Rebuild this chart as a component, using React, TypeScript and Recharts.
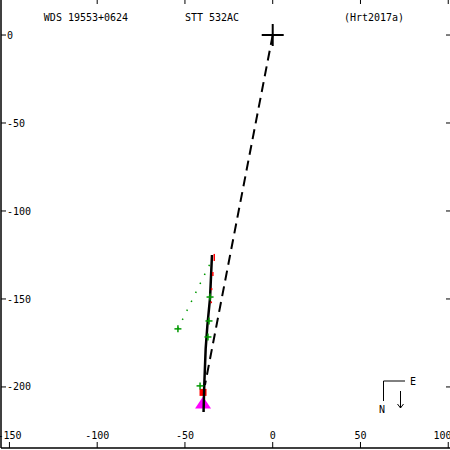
import {Scatter, ScatterChart, XAxis, YAxis} from 'recharts';

const xTicks = [-150, -100, -50, 0, 50, 100];
const yTicks = [-200, -150, -100, -50, 0];

const primary = [{x: 0, y: 0}];
// thin, nearly edge-on apparent orbit
const orbit = [
    {x: -34.6, y: -125.0},
    {x: -35.7, y: -149.4},
    {x: -37.2, y: -164.8},
    {x: -38.2, y: -178.4},
    {x: -39.0, y: -198.9},
    {x: -39.4, y: -214.2},
];
const nodeLine = [{x: 0, y: 0}, {x: -38.6, y: -198.9}];
const outlierLink = [{x: -54.0, y: -167.0}, {x: -35.2, y: -128.9}];
const measures = [
    {x: -54.0, y: -167.0},
    {x: -35.7, y: -148.9},
    {x: -36.3, y: -162.5},
    {x: -36.9, y: -171.6},
    {x: -41.4, y: -199.4},
];
const residuals = [
    [{x: -33.3, y: -124.4}, {x: -33.3, y: -128.4}],
    [{x: -34.1, y: -134.7}, {x: -34.1, y: -136.9}],
    [{x: -34.8, y: -143.8}, {x: -34.8, y: -145.0}],
    [{x: -35.0, y: -151.4}, {x: -35.0, y: -152.4}],
];
const specklePoints = [{x: -39.7, y: -203.1}];
const lastMeasure = [{x: -39.7, y: -208.8}];

const xDomain = [-154.8, 101];
const yDomain = [-234.7, 19.9];

const font = {fontFamily: 'DejaVu Sans Mono', fontSize: 10, fill: '#000'};
const hiddenTick = () => <g />;
const noShape = () => <g />;

const cross = (half: number, color: string, width: number) => (props: any) => {
    const {cx, cy} = props;
    return (
        <g stroke={color} strokeWidth={width}>
            <line x1={cx - half} y1={cy} x2={cx + half} y2={cy} />
            <line x1={cx} y1={cy - half} x2={cx} y2={cy + half} />
        </g>
    );
};

const triangle = (props: any) => {
    const {cx, cy} = props;
    return <polygon points={`${cx},${cy - 6} ${cx - 8},${cy + 6} ${cx + 8},${cy + 6}`} fill="#ff00ff" />;
};

const square = (props: any) => {
    const {cx, cy} = props;
    return <rect x={cx - 3.5} y={cy - 3.5} width={7} height={7} fill="#ff0000" />;
};

export default function App() {
    return (
        <div style={{position: 'absolute', left: 0, top: 0, width: 450, height: 450, background: '#fff'}}>
            <ScatterChart width={450} height={450} margin={{top: 0, right: 0, bottom: 2, left: 1}}>
                <XAxis dataKey="x" type="number" domain={xDomain} allowDataOverflow ticks={xTicks}
                       mirror tickSize={6} tickMargin={3} tick={font}
                       stroke="#000" axisLine={{stroke: '#000', strokeWidth: 1.5}} />
                <XAxis xAxisId="top" orientation="top" dataKey="x" type="number" domain={xDomain}
                       allowDataOverflow ticks={xTicks} mirror tickSize={4}
                       tick={hiddenTick} axisLine={false} stroke="#000" />
                <YAxis dataKey="y" type="number" domain={yDomain} allowDataOverflow ticks={yTicks}
                       mirror tickSize={5} tickMargin={1} tick={font}
                       stroke="#000" axisLine={{stroke: '#000', strokeWidth: 1.5}} />
                <YAxis yAxisId="right" orientation="right" dataKey="y" type="number" domain={yDomain}
                       allowDataOverflow ticks={yTicks} mirror tickSize={4}
                       tick={hiddenTick} axisLine={false} stroke="#000" />

                <Scatter data={lastMeasure} shape={triangle} isAnimationActive={false} />
                <Scatter data={specklePoints} shape={square} isAnimationActive={false} />
                <Scatter data={nodeLine} shape={noShape} isAnimationActive={false}
                         line={{stroke: '#000', strokeWidth: 2, strokeDasharray: '10 6'}} />
                <Scatter data={orbit} shape={noShape} isAnimationActive={false}
                         line={{stroke: '#000', strokeWidth: 2.5}} />
                {residuals.map((seg, i) => (
                    <Scatter key={i} data={seg} shape={noShape} isAnimationActive={false}
                             line={{stroke: '#ff0000', strokeWidth: 1.5}} />
                ))}
                <Scatter data={outlierLink} shape={noShape} isAnimationActive={false}
                         line={{stroke: '#009900', strokeWidth: 1.5, strokeDasharray: '1.5 8.5'}} />
                <Scatter data={measures} shape={cross(3.5, '#009900', 1.5)} isAnimationActive={false} />
                <Scatter data={primary} shape={cross(11, '#000', 2)} isAnimationActive={false} />
            </ScatterChart>
            <svg width={450} height={450} style={{position: 'absolute', left: 0, top: 0, pointerEvents: 'none'}}>
                <g style={font}>
                    <text x={86} y={21} textAnchor="middle">WDS 19553+0624</text>
                    <text x={212} y={21} textAnchor="middle">STT 532AC</text>
                    <text x={374} y={21} textAnchor="middle">(Hrt2017a)</text>
                    <text x={413} y={385} textAnchor="middle">E</text>
                    <text x={382} y={413} textAnchor="middle">N</text>
                </g>
                <g stroke="#000" strokeWidth={1} fill="none">
                    <polyline points="405,381 383.5,381 383.5,401" />
                    <line x1={400.5} y1={391} x2={400.5} y2={408} />
                    <polyline points="397.5,404 400.5,408 403.5,404" />
                </g>
            </svg>
        </div>
    );
}
